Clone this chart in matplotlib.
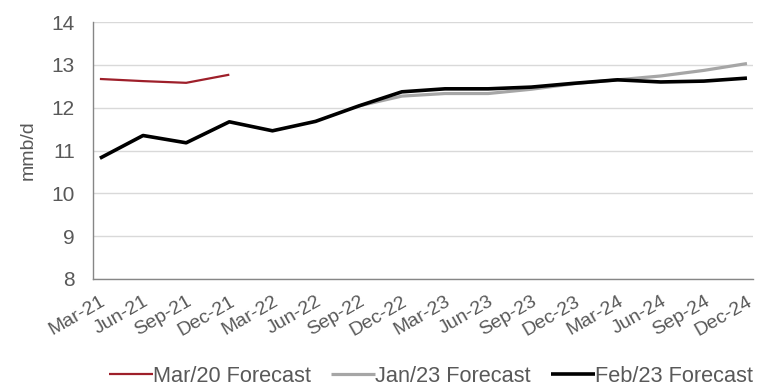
import matplotlib
matplotlib.use("Agg")
import matplotlib.pyplot as plt

plt.rcParams['font.family'] = ['Liberation Sans', 'DejaVu Sans']

quarters = ["Mar-21", "Jun-21", "Sep-21", "Dec-21", "Mar-22", "Jun-22", "Sep-22", "Dec-22",
            "Mar-23", "Jun-23", "Sep-23", "Dec-23", "Mar-24", "Jun-24", "Sep-24", "Dec-24"]

# Mar/20 forecast covers 2021 only
mar20_forecast = [12.67, 12.62, 12.58, 12.77]
# Jan/23 forecast from Sep-22 onwards
jan23_start = 6
jan23_forecast = [12.04, 12.27, 12.33, 12.33, 12.43, 12.56, 12.65, 12.74, 12.87, 13.03]
feb23_forecast = [10.82, 11.35, 11.18, 11.67, 11.46, 11.68, 12.04, 12.37, 12.44, 12.44,
                  12.48, 12.57, 12.65, 12.60, 12.62, 12.69]

text_color = "#595959"

fig = plt.figure(figsize=(7.63, 3.85), dpi=100)
ax = fig.add_axes([93 / 763, 1 - 279 / 385, 660 / 763, 257 / 385])

x_all = list(range(len(quarters)))
ax.plot(x_all[:len(mar20_forecast)], mar20_forecast, color="#9E1F2A", lw=1.6,
        label="Mar/20 Forecast", solid_capstyle="butt")
ax.plot(x_all[jan23_start:jan23_start + len(jan23_forecast)], jan23_forecast,
        color="#A6A6A6", lw=2.3, label="Jan/23 Forecast", solid_capstyle="butt")
ax.plot(x_all, feb23_forecast, color="black", lw=2.6, label="Feb/23 Forecast",
        solid_capstyle="butt")

ax.set_ylim(8, 14)
ax.set_yticks(range(8, 15))
ax.set_xlim(-0.16, 15.14)
ax.set_xticks(x_all)
ax.set_xticklabels(quarters, rotation=30, ha="right", va="top", rotation_mode="anchor",
                   fontsize=14, color=text_color)
for lbl in ax.get_yticklabels():
    lbl.set_fontsize(15)
    lbl.set_color(text_color)

ax.tick_params(axis="both", length=0)
ax.tick_params(axis="y", pad=13)
ax.tick_params(axis="x", pad=10)
ax.grid(axis="y", color="#D9D9D9", lw=1)
ax.set_axisbelow(True)
for side in ("top", "right"):
    ax.spines[side].set_visible(False)
for side in ("left", "bottom"):
    ax.spines[side].set_color("#868686")
    ax.spines[side].set_linewidth(1)

ax.set_ylabel("mmb/d", fontsize=14, color=text_color, labelpad=11)

fig.legend(loc="center", bbox_to_anchor=(431 / 763, 1 - 376 / 385), ncol=3,
           frameon=False, fontsize=15.7, handlelength=2.0, handletextpad=0.0,
           columnspacing=0.95, labelcolor=text_color, borderpad=0)

fig.savefig("out.png", dpi=100, facecolor="white")
